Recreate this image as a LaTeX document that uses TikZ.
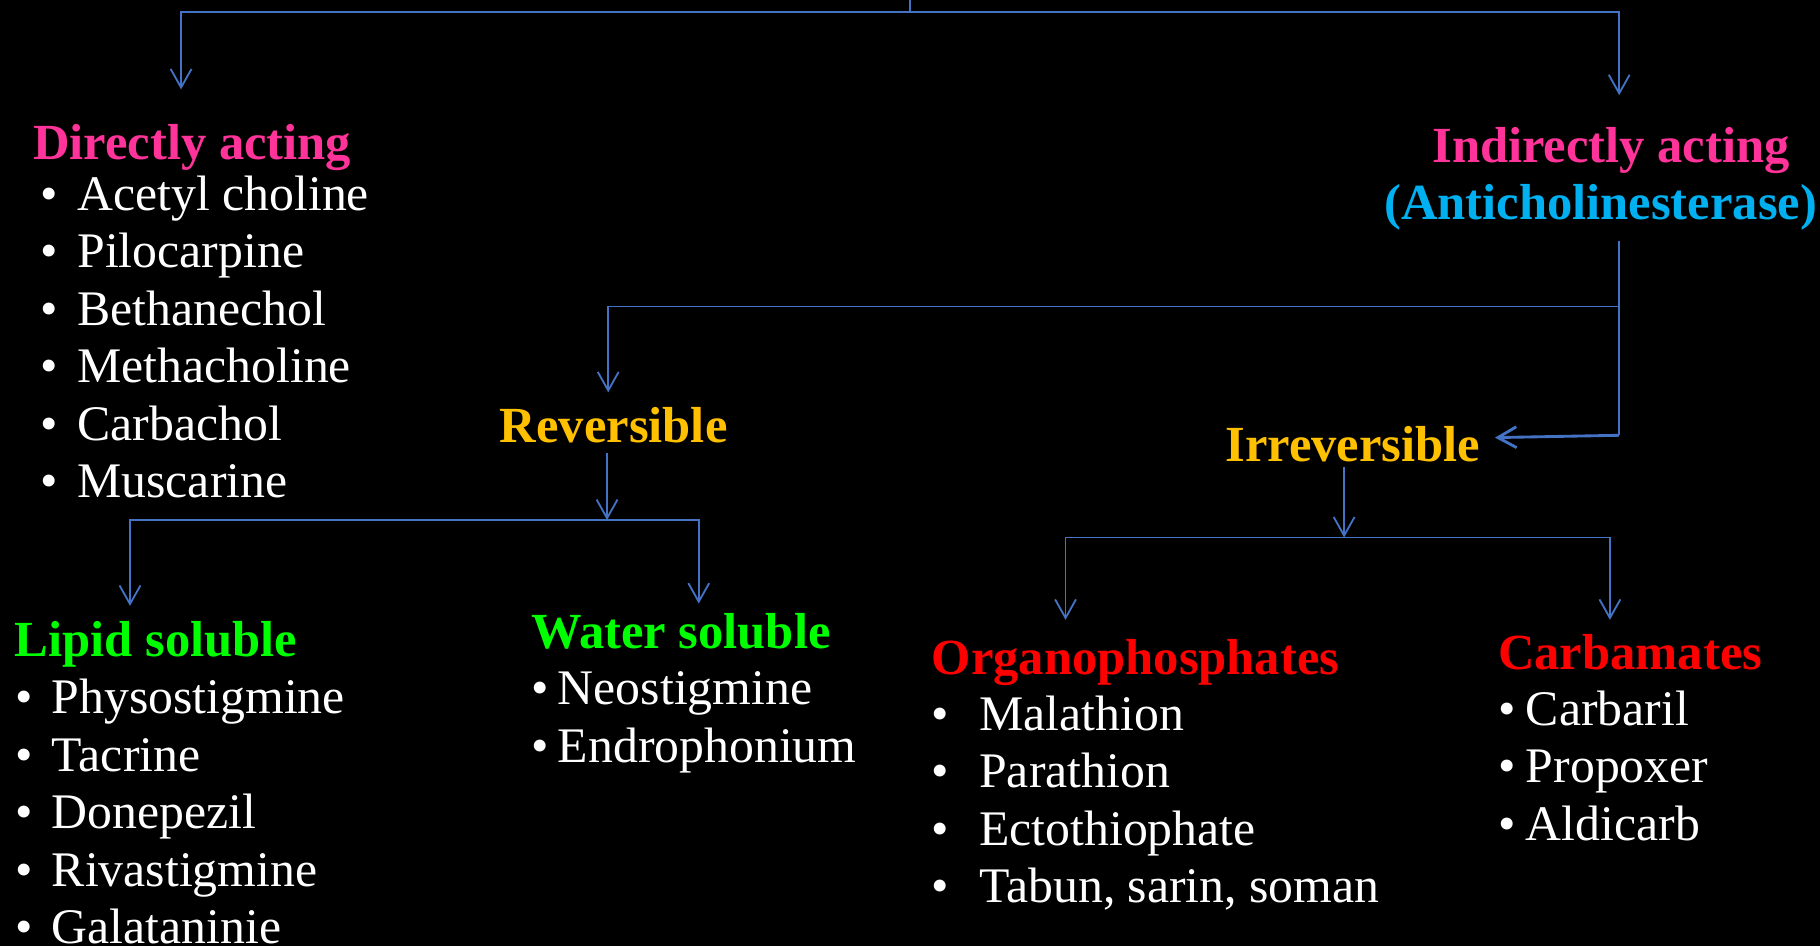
\documentclass[tikz,border=0pt]{standalone}
\usepackage{fontspec}
\setmainfont{Liberation Serif}
\usetikzlibrary{arrows.meta}

\definecolor{linkblue}{HTML}{4472C4}
\definecolor{headpink}{HTML}{FF3399}
\definecolor{headcyan}{HTML}{00B0F0}
\definecolor{headgold}{HTML}{FFC000}
\definecolor{headgreen}{HTML}{00FF00}
\definecolor{headred}{HTML}{FF0000}

% bullet list: #1 = room for the bullet, #2 = rows
\newcommand{\druglist}[2]{\begin{tabular}[t]{@{}p{#1}@{}l@{}}#2\end{tabular}}

\begin{document}
\begin{tikzpicture}[x=0.1mm, y=-0.1mm,
    head/.style={inner sep=0pt, font=\fontsize{12.4}{14}\selectfont\bfseries},
    items/.style={inner sep=0pt, text=white, anchor=base west, font=\fontsize{12.2}{14.1}\selectfont},
    link/.style={draw=linkblue, line width=0.45pt},
    arrow/.style={link, -{Straight Barb[length=1.6mm, width=1.8mm]}}]
    \useasboundingbox (0,0) rectangle (1568,815);
    \fill[black] (0,0) rectangle (1568,815);

    % Headings
    \node[head, text=headpink, anchor=base west] (direct) at (28,137) {Directly acting};
    \node[head, text=headpink, anchor=base] (indirect) at (1388,140) {Indirectly acting};
    \node[head, text=headcyan, anchor=base] (anti) at (1379,189) {(Anticholinesterase)};
    \node[head, text=headgold, anchor=base west] (rev) at (430,381) {Reversible};
    \node[head, text=headgold, anchor=base west] (irrev) at (1055,398) {Irreversible};
    \node[head, text=headgreen, anchor=base west] (lipid) at (12,566) {Lipid soluble};
    \node[head, text=headgreen, anchor=base west] (water) at (457,559) {Water soluble};
    \node[head, text=headred, anchor=base west] (organo) at (802,581) {Organophosphates};
    \node[head, text=headred, anchor=base west] (carba) at (1290,577) {Carbamates};

    % Drug lists
    \node[items] (directlist) at (34,181) {\druglist{3.2mm}{
        \textbullet & Acetyl choline \\ \textbullet & Pilocarpine \\
        \textbullet & Bethanechol \\ \textbullet & Methacholine \\
        \textbullet & Carbachol \\ \textbullet & Muscarine}};
    \node[items] (lipidlist) at (13,615) {\druglist{3.1mm}{
        \textbullet & Physostigmine \\ \textbullet & Tacrine \\
        \textbullet & Donepezil \\ \textbullet & Rivastigmine \\
        \textbullet & Galataninie}};
    \node[items] (waterlist) at (457,607) {\druglist{2.3mm}{
        \textbullet & Neostigmine \\ \textbullet & Endrophonium}};
    \node[items] (organolist) at (802,629) {\druglist{4.1mm}{
        \textbullet & Malathion \\ \textbullet & Parathion \\
        \textbullet & Ectothiophate \\ \textbullet & Tabun, sarin, soman}};
    \node[items] (carbalist) at (1290,625) {\druglist{2.4mm}{
        \textbullet & Carbaril \\ \textbullet & Propoxer \\
        \textbullet & Aldicarb}};

    % Junctions and arrow tips
    \coordinate (stem) at (784,0);
    \coordinate (bus) at (784,10);
    \coordinate (tipDirect) at (156,77);
    \coordinate (tipIndirect) at (1395,82);
    \coordinate (antiStem) at (1395,208);
    \coordinate (revJoin) at (1395,264);
    \coordinate (irrElbow) at (1395,375);
    \coordinate (tipIrrev) at (1288,377);
    \coordinate (tipRev) at (524,338);
    \coordinate (revOut) at (523,390);
    \coordinate (revBus) at (523,448);
    \coordinate (tipLipid) at (112,522);
    \coordinate (tipWater) at (602,520);
    \coordinate (irrOut) at (1158,402);
    \coordinate (irrBus) at (1158,463);
    \coordinate (tipOrgano) at (918,534);
    \coordinate (tipCarba) at (1387,534);

    % Top split
    \draw[link] (stem) -- (bus);
    \draw[arrow] (bus) -| (tipDirect);
    \draw[arrow] (bus) -| (tipIndirect);

    % Indirectly acting split
    \draw[link] (antiStem) -- (irrElbow);
    \draw[arrow, line width=0.7pt] (irrElbow) -- (tipIrrev);
    \draw[arrow] (revJoin) -| (tipRev);

    % Reversible split
    \draw[arrow] (revOut) -- (revBus);
    \draw[arrow] (revBus) -| (tipLipid);
    \draw[arrow] (revBus) -| (tipWater);

    % Irreversible split
    \draw[arrow] (irrOut) -- (irrBus);
    \draw[arrow] (irrBus) -| (tipOrgano);
    \draw[arrow] (irrBus) -| (tipCarba);
\end{tikzpicture}
\end{document}
